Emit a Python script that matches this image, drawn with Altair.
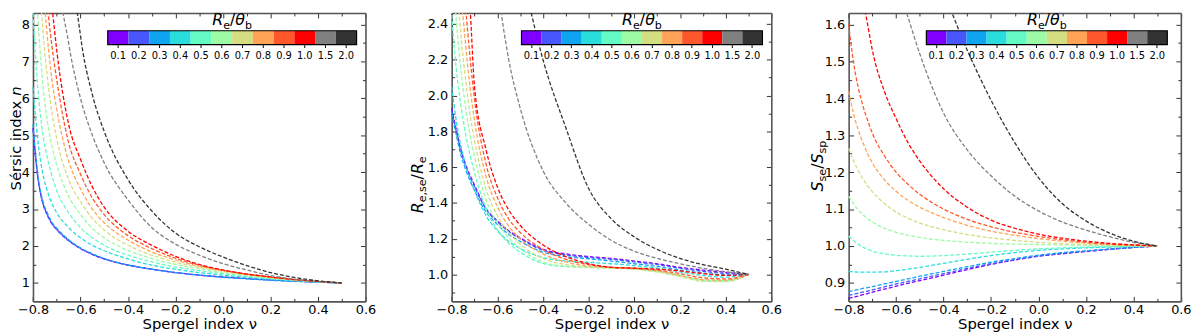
import altair as alt
import pandas as pd

FONT = "DejaVu Sans"

NU = [-0.8, -0.78, -0.76, -0.74, -0.72, -0.7, -0.65, -0.6, -0.55, -0.5,
      -0.4, -0.3, -0.2, -0.1, 0.0, 0.1, 0.2, 0.3, 0.4, 0.5]

RATIOS = ["0.1", "0.2", "0.3", "0.4", "0.5", "0.6", "0.7", "0.8", "0.9", "1.0", "1.5", "2.0"]
COLORS = ["#8000ff", "#4757fb", "#0ea4f0", "#2adddd", "#63fbc3", "#9cfba4",
          "#d4dd80", "#ffa457", "#ff572c", "#ff0000", "#808080", "#333333"]

# Panel 1: Sersic index n
N_SERSIC = {
    "0.1": [5.2, 3.9, 3.2, 2.85, 2.6, 2.45, 2.15, 1.93, 1.77, 1.65, 1.48, 1.37, 1.28, 1.21, 1.16, 1.12, 1.08, 1.05, 1.02, 1.0],
    "0.2": [5.15, 3.85, 3.18, 2.84, 2.6, 2.44, 2.14, 1.93, 1.77, 1.65, 1.48, 1.37, 1.28, 1.21, 1.16, 1.115, 1.08, 1.05, 1.02, 1.0],
    "0.3": [5.3, 3.95, 3.25, 2.9, 2.64, 2.48, 2.17, 1.95, 1.79, 1.66, 1.49, 1.37, 1.28, 1.21, 1.15, 1.11, 1.07, 1.04, 1.02, 1.0],
    "0.4": [6.3, 4.9, 4.0, 3.5, 3.15, 2.9, 2.5, 2.22, 2.02, 1.87, 1.65, 1.48, 1.37, 1.28, 1.21, 1.15, 1.10, 1.06, 1.03, 1.0],
    "0.5": [8.3, 6.3, 5.1, 4.4, 3.9, 3.5, 2.9, 2.5, 2.22, 2.02, 1.75, 1.57, 1.43, 1.33, 1.25, 1.18, 1.12, 1.07, 1.03, 1.0],
    "0.6": [10.5, 8.2, 6.5, 5.4, 4.7, 4.2, 3.35, 2.85, 2.48, 2.22, 1.88, 1.66, 1.50, 1.38, 1.28, 1.20, 1.13, 1.08, 1.035, 1.0],
    "0.7": [13.0, 10.0, 8.0, 6.6, 5.6, 4.9, 3.8, 3.2, 2.75, 2.43, 2.02, 1.75, 1.56, 1.42, 1.31, 1.22, 1.14, 1.08, 1.035, 1.0],
    "0.8": [16.0, 12.0, 9.4, 7.7, 6.5, 5.7, 4.3, 3.55, 3.0, 2.63, 2.16, 1.84, 1.62, 1.45, 1.33, 1.23, 1.15, 1.09, 1.04, 1.0],
    "0.9": [18.0, 13.5, 10.5, 8.6, 7.4, 6.5, 4.8, 3.95, 3.3, 2.85, 2.28, 1.93, 1.67, 1.48, 1.34, 1.24, 1.16, 1.09, 1.04, 1.0],
    "1.0": [20.0, 15.0, 12.0, 9.8, 8.5, 7.3, 5.3, 4.35, 3.6, 3.05, 2.4, 2.02, 1.72, 1.5, 1.35, 1.24, 1.16, 1.09, 1.04, 1.0],
    "1.5": [60.0, 40.0, 28.0, 20.0, 14.0, 10.0, 7.5, 6.0, 5.0, 4.25, 3.25, 2.5, 2.05, 1.75, 1.52, 1.35, 1.2, 1.1, 1.035, 1.0],
    "2.0": [90.0, 60.0, 45.0, 35.0, 27.0, 20.0, 11.0, 7.7, 6.1, 5.1, 3.8, 2.95, 2.35, 1.98, 1.70, 1.47, 1.28, 1.15, 1.055, 1.0],
}

# Panel 2: R_e,se / R_e
R_RATIO = {
    "0.1": [1.93, 1.81, 1.70, 1.62, 1.555, 1.50, 1.37, 1.30, 1.245, 1.205, 1.14, 1.115, 1.10, 1.09, 1.075, 1.06, 1.04, 1.025, 1.012, 1.0],
    "0.2": [1.92, 1.80, 1.69, 1.61, 1.545, 1.49, 1.365, 1.295, 1.24, 1.20, 1.135, 1.11, 1.095, 1.085, 1.07, 1.055, 1.035, 1.018, 1.005, 1.0],
    "0.3": [1.90, 1.78, 1.67, 1.59, 1.525, 1.47, 1.35, 1.28, 1.225, 1.185, 1.125, 1.10, 1.088, 1.075, 1.06, 1.045, 1.025, 1.008, 0.998, 1.0],
    "0.4": [2.05, 1.86, 1.72, 1.62, 1.54, 1.47, 1.33, 1.245, 1.185, 1.145, 1.095, 1.075, 1.068, 1.06, 1.05, 1.035, 1.015, 0.995, 0.985, 1.0],
    "0.5": [2.45, 2.15, 1.95, 1.79, 1.67, 1.57, 1.37, 1.25, 1.175, 1.125, 1.062, 1.045, 1.042, 1.04, 1.035, 1.02, 0.995, 0.97, 0.965, 1.0],
    "0.6": [2.8, 2.42, 2.15, 1.94, 1.78, 1.66, 1.42, 1.29, 1.205, 1.145, 1.07, 1.045, 1.038, 1.035, 1.03, 1.015, 0.99, 0.962, 0.96, 1.0],
    "0.7": [3.2, 2.7, 2.35, 2.1, 1.9, 1.75, 1.48, 1.33, 1.235, 1.17, 1.09, 1.055, 1.042, 1.037, 1.03, 1.015, 0.99, 0.965, 0.962, 1.0],
    "0.8": [3.6, 3.05, 2.6, 2.3, 2.05, 1.86, 1.55, 1.38, 1.27, 1.20, 1.115, 1.07, 1.048, 1.04, 1.033, 1.02, 0.995, 0.972, 0.968, 1.0],
    "0.9": [4.0, 3.4, 2.95, 2.52, 2.22, 1.98, 1.62, 1.43, 1.31, 1.235, 1.14, 1.085, 1.055, 1.04, 1.035, 1.025, 1.005, 0.982, 0.975, 1.0],
    "1.0": [4.3, 3.7, 3.2, 2.8, 2.5, 2.05, 1.70, 1.49, 1.36, 1.275, 1.165, 1.10, 1.06, 1.04, 1.035, 1.03, 1.02, 1.005, 0.995, 1.0],
    "1.5": [6.0, 5.4, 4.9, 4.4, 4.0, 3.6, 3.2, 2.62, 2.2, 1.93, 1.58, 1.40, 1.28, 1.19, 1.13, 1.09, 1.06, 1.035, 1.015, 1.0],
    "2.0": [8.0, 7.4, 6.8, 6.2, 5.7, 5.2, 4.3, 3.6, 3.1, 2.75, 2.2, 1.82, 1.48, 1.31, 1.21, 1.14, 1.09, 1.055, 1.03, 1.0],
}

# Panel 3: S_se / S_sp
S_RATIO = {
    "0.1": [0.858, 0.861, 0.864, 0.868, 0.871, 0.875, 0.883, 0.891, 0.899, 0.906, 0.921, 0.936, 0.950, 0.962, 0.972, 0.979, 0.985, 0.991, 0.996, 1.0],
    "0.2": [0.866, 0.869, 0.872, 0.875, 0.878, 0.881, 0.889, 0.897, 0.904, 0.911, 0.925, 0.939, 0.952, 0.963, 0.973, 0.980, 0.986, 0.991, 0.996, 1.0],
    "0.3": [0.877, 0.879, 0.882, 0.885, 0.887, 0.890, 0.897, 0.904, 0.911, 0.918, 0.931, 0.944, 0.956, 0.966, 0.975, 0.982, 0.987, 0.992, 0.996, 1.0],
    "0.4": [0.931, 0.930, 0.929, 0.929, 0.929, 0.929, 0.930, 0.933, 0.937, 0.942, 0.953, 0.964, 0.974, 0.982, 0.988, 0.992, 0.995, 0.997, 0.999, 1.0],
    "0.5": [1.027, 1.015, 1.005, 0.997, 0.991, 0.986, 0.979, 0.975, 0.973, 0.972, 0.974, 0.978, 0.983, 0.988, 0.992, 0.995, 0.997, 0.998, 0.999, 1.0],
    "0.6": [1.135, 1.115, 1.098, 1.085, 1.074, 1.065, 1.048, 1.037, 1.029, 1.023, 1.015, 1.010, 1.007, 1.005, 1.004, 1.003, 1.002, 1.001, 1.0, 1.0],
    "0.7": [1.265, 1.232, 1.205, 1.182, 1.163, 1.147, 1.115, 1.092, 1.075, 1.062, 1.044, 1.031, 1.022, 1.015, 1.010, 1.006, 1.004, 1.002, 1.001, 1.0],
    "0.8": [1.42, 1.36, 1.315, 1.28, 1.25, 1.225, 1.18, 1.148, 1.124, 1.105, 1.077, 1.056, 1.04, 1.029, 1.02, 1.013, 1.008, 1.004, 1.002, 1.0],
    "0.9": [1.6, 1.5, 1.43, 1.38, 1.34, 1.305, 1.245, 1.2, 1.167, 1.14, 1.1, 1.072, 1.052, 1.037, 1.026, 1.017, 1.01, 1.005, 1.002, 1.0],
    "1.0": [2.1, 1.9, 1.76, 1.67, 1.6, 1.53, 1.42, 1.345, 1.28, 1.23, 1.155, 1.105, 1.07, 1.048, 1.032, 1.021, 1.013, 1.007, 1.003, 1.0],
    "1.5": [2.3, 2.2, 2.12, 2.05, 1.98, 1.92, 1.81, 1.72, 1.62, 1.52, 1.36, 1.26, 1.19, 1.135, 1.095, 1.065, 1.043, 1.025, 1.01, 1.0],
    "2.0": [3.0, 2.85, 2.72, 2.6, 2.5, 2.4, 2.2, 2.03, 1.9, 1.81, 1.685, 1.53, 1.395, 1.28, 1.185, 1.115, 1.068, 1.035, 1.013, 1.0],
}

X_MAJOR = [-0.8, -0.6, -0.4, -0.2, 0.0, 0.2, 0.4, 0.6]
X_MINOR = [-0.7, -0.5, -0.3, -0.1, 0.1, 0.3, 0.5]

H = 292
W = 1188
FRAME = "#555555"
TICKC = "#333333"

ONE = pd.DataFrame({"a": [0]})

EM = {"R": .695, "S": .635, "e": .615, "s": .521, "p": .635, ",": .318, "/": .337,
      "θ": .612, "b": .635, " ": .318, "é": .615, "r": .411, "i": .278, "c": .55,
      "n": .634, "d": .635, "x": .592}


def text_run(pieces, cx, cy, rotated=False):
    widths = [sum(EM.get(ch, 0.6) for ch in t) * size for t, size, it, sh in pieces]
    total = sum(widths)
    pos = -total / 2
    out = []
    for (t, size, it, sh), w in zip(pieces, widths):
        if rotated:
            x, y = cx + sh, cy - pos
        else:
            x, y = cx + pos, cy + sh
        out.append(
            alt.Chart(ONE).mark_text(
                text=t, font=FONT, fontSize=size, fontStyle="italic" if it else "normal",
                align="left", baseline="alphabetic", angle=270 if rotated else 0, color="black"
            ).encode(x=alt.value(x), y=alt.value(y))
        )
        pos += w
    return out


def math_label(a, sub_a, b, sub_b, size):
    s = round(size * 0.7, 1)
    d = round(size * 0.23, 1)
    return [(a, size, True, 0), (sub_a, s, False, d), ("/", size, False, 0),
            (b, size, True, 0), (sub_b, s, False, d)]


def panel(values, x0, x1, ydom, ymaj, ymin, yfmt, cb0, cb1, title_pieces, title_x, title_cy, ylabpad):
    rows = []
    for k, r in enumerate(RATIOS):
        for nu, v in zip(NU, values[r]):
            rows.append({"nu": nu, "val": v, "ratio": r, "k": k})
    df = pd.DataFrame(rows)
    corners = pd.DataFrame({"nu": [-0.8, 0.6], "val": ydom})

    def xs():
        return alt.Scale(domain=[-0.8, 0.6], range=[x0, x1], nice=False, zero=False)

    def ys():
        return alt.Scale(domain=ydom, nice=False, zero=False)

    lines = alt.Chart(df).mark_line(
        clip=True, strokeDash=[4, 2], strokeWidth=1.3, interpolate="monotone"
    ).encode(
        x=alt.X("nu:Q", scale=xs(), axis=alt.Axis(
            orient="bottom", values=X_MAJOR, format=".1f", ticks=False, tickSize=0,
            labelPadding=2, labelFontSize=13, labelFont=FONT, labelColor="black",
            labelFlush=False, labelOverlap=False, labelBound=False,
            domain=True, domainColor=FRAME, domainWidth=1.6, grid=False,
            title="Spergel index ν", titleFont=FONT, titleFontSize=15, titleFontWeight="normal",
            titleColor="black", titlePadding=1)),
        y=alt.Y("val:Q", scale=ys(), axis=alt.Axis(
            orient="left", offset=-x0, values=ymaj, format=yfmt, ticks=False, tickSize=0,
            labelPadding=ylabpad, labelFontSize=13, labelFont=FONT, labelColor="black",
            labelFlush=False, labelOverlap=False, labelBound=False,
            domain=True, domainColor=FRAME, domainWidth=1.6, grid=False, title=None)),
        color=alt.Color("ratio:N", scale=alt.Scale(domain=RATIOS, range=COLORS), legend=None),
        detail="k:N",
    )

    def tick_layer(xorient, yorient, yoff, xv, yv, size, dom):
        return alt.Chart(corners).mark_point(opacity=0).encode(
            x=alt.X("nu:Q", scale=xs(), axis=alt.Axis(
                orient=xorient, offset=-H, values=xv, labels=False, ticks=True,
                tickSize=size, tickColor=TICKC, tickWidth=1, domain=dom,
                domainColor=FRAME, domainWidth=1.6, grid=False, title=None)),
            y=alt.Y("val:Q", scale=ys(), axis=alt.Axis(
                orient=yorient, offset=yoff, values=yv, labels=False, ticks=True,
                tickSize=size, tickColor=TICKC, tickWidth=1, domain=dom,
                domainColor=FRAME, domainWidth=1.6, grid=False, title=None)),
        )

    t1 = tick_layer("top", "right", -(W - x0), X_MAJOR, ymaj, 5, False)
    t2 = tick_layer("bottom", "left", -x1, X_MAJOR, ymaj, 5, True)
    t3 = tick_layer("top", "right", -(W - x0), X_MINOR, ymin, 3, False)
    t4 = tick_layer("bottom", "left", -x1, X_MINOR, ymin, 3, False)

    cbdf = pd.DataFrame({"ratio": RATIOS})
    cb = alt.Chart(cbdf).mark_rect().encode(
        x=alt.X("ratio:N", sort=RATIOS, scale=alt.Scale(
            domain=RATIOS, range=[cb0, cb1], paddingInner=0, paddingOuter=0),
            axis=alt.Axis(orient="bottom", offset=-(H - 32), labelAngle=0, labelFontSize=10,
                          labelFont=FONT, labelColor="black", labelPadding=3, tickSize=3,
                          tickColor="black", domain=False, grid=False, title=None,
                          labelOverlap=False)),
        y=alt.value(18), y2=alt.value(32),
        color=alt.Color("ratio:N", scale=alt.Scale(domain=RATIOS, range=COLORS), legend=None),
    )
    cbframe = alt.Chart(ONE).mark_rect(filled=False, stroke="black", strokeWidth=1.2).encode(
        x=alt.value(cb0), x2=alt.value(cb1), y=alt.value(18), y2=alt.value(32))

    cbtitle = text_run(math_label("R", "e", "θ", "b", 16), (cb0 + cb1) / 2, 12)
    ytitle = text_run(title_pieces, title_x, title_cy, rotated=True)

    return [lines, t1, t2, t3, t4, cb, cbframe] + cbtitle + ytitle


layers = []
layers += panel(N_SERSIC, 25.3, 362.0, [0.5, 8.31], [1, 2, 3, 4, 5, 6, 7, 8],
                [1.5, 2.5, 3.5, 4.5, 5.5, 6.5, 7.5], "d", 101, 353,
                [("Sérsic index ", 15, False, 0), ("n", 15, True, 0)], 13.5, 127, 3.5)
layers += panel(R_RATIO, 449.3, 773.0, [0.85, 2.461], [1.0, 1.2, 1.4, 1.6, 1.8, 2.0, 2.2, 2.4],
                [0.9, 1.1, 1.3, 1.5, 1.7, 1.9, 2.1, 2.3], ".1f", 520, 764,
                math_label("R", "e,se", "R", "e", 16), 420, 174, 4)
layers += panel(S_RATIO, 851.3, 1187.7, [0.85, 1.631], [0.9, 1.0, 1.1, 1.2, 1.3, 1.4, 1.5, 1.6],
                [0.95, 1.05, 1.15, 1.25, 1.35, 1.45, 1.55], ".1f", 930, 1174,
                math_label("S", "se", "S", "sp", 16), 825, 155, 4)

chart = alt.layer(*layers).resolve_scale(x="independent", y="independent").resolve_axis(
    x="independent", y="independent"
).properties(width=W, height=H, padding=0).configure_view(stroke=None)

chart.save("out.html", embed_options={"renderer": "svg", "actions": False})
